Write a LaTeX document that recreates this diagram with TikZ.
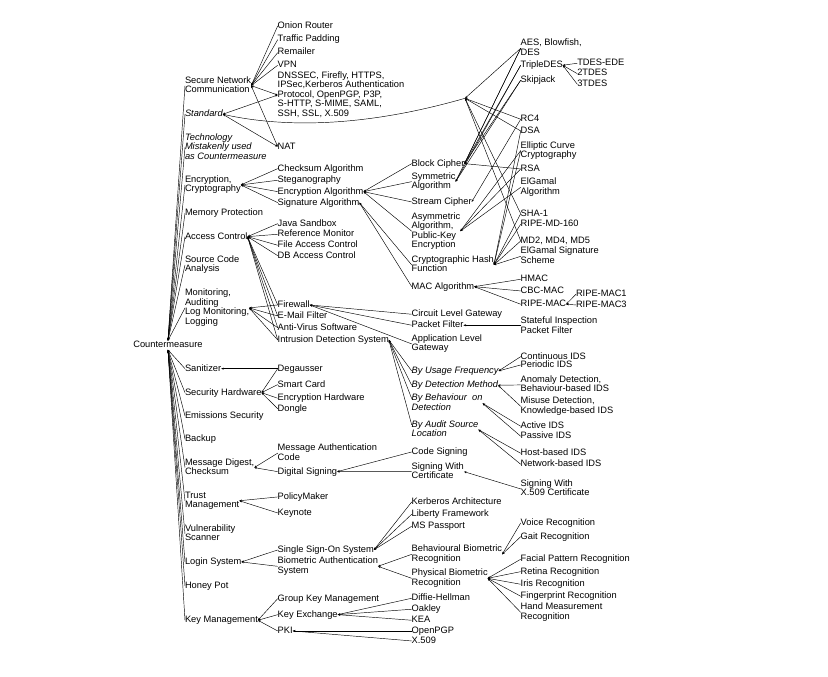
\documentclass[tikz,border=0pt]{standalone}
\usepackage{fontspec}
\setmainfont{Liberation Sans}
\usetikzlibrary{arrows.meta,calc}
\tikzset{
 lab/.style={anchor=north west, inner sep=0pt, outer sep=0pt, align=left,
   font=\fontsize{9.3}{9.6}\selectfont,
   execute at begin node={\rule{0pt}{7pt}},
   execute at end node={\rule[-2.3pt]{0pt}{2.3pt}}},
 itl/.style={lab, font=\fontsize{9.3}{9.6}\selectfont\itshape},
 ln/.style={draw=black, line width=0.45pt, {Stealth[length=2.6pt,width=2pt]}-},
 lnb/.style={draw=black, line width=0.45pt, {Stealth[length=2.6pt,width=2pt]}-{Stealth[length=2.6pt,width=2pt]}},
}
\begin{document}
\begin{tikzpicture}[x=1pt,y=-1pt]
\path[use as bounding box] (0,0) rectangle (828,677);
% root
\node[lab] (cm) at (133.3,340.6) {Countermeasure};
% first level
\node[lab] (snc) at (185,76.3) {Secure Network\\Communication};
\node[itl] (std) at (185,109.6) {Standard};
\node[itl] (tech) at (185,133.3) {Technology\\Mistakenly used\\as Countermeasure};
\node[lab] (enc) at (185,175.6) {Encryption,\\Cryptography};
\node[lab] (mem) at (185,208.6) {Memory Protection};
\node[lab] (acc) at (185,232) {Access Control};
\node[lab] (src) at (185,255.6) {Source Code\\Analysis};
\node[lab] (mon) at (185,289) {Monitoring,\\Auditing\\Log Monitoring,\\Logging};
\node[lab] (san) at (185,364) {Sanitizer};
\node[lab] (sech) at (185,388) {Security Hardware};
\node[lab] (ems) at (185,411.3) {Emissions Security};
\node[lab] (bak) at (185,434.6) {Backup};
\node[lab] (md) at (185,458.3) {Message Digest,\\Checksum};
\node[lab] (trust) at (185,491.6) {Trust\\Management};
\node[lab] (vuln) at (185,524.6) {Vulnerability\\Scanner};
\node[lab] (login) at (185,557.3) {Login System};
\node[lab] (honey) at (185,581.3) {Honey Pot};
\node[lab] (keym) at (185,615.6) {Key Management};
% second column
\node[lab] (onion) at (277.7,21.3) {Onion Router};
\node[lab] (traffic) at (277.7,35) {Traffic Padding};
\node[lab] (remailer) at (277.7,48) {Remailer};
\node[lab] (vpn) at (277.7,60.6) {VPN};
\node[lab] (proto) at (277.7,71.3) {DNSSEC, Firefly, HTTPS,\\IPSec,Kerberos Authentication\\Protocol, OpenPGP, P3P,\\S-HTTP, S-MIME, SAML,\\SSH, SSL, X.509};
\node[lab] (nat) at (277.7,142) {NAT};
\node[lab] (chk) at (277.7,164) {Checksum Algorithm};
\node[lab] (steg) at (277.7,175.6) {Steganography};
\node[lab] (encalg) at (277.7,187) {Encryption Algorithm};
\node[lab] (sigalg) at (277.7,198) {Signature Algorithm};
\node[lab] (java) at (277.7,219) {Java Sandbox};
\node[lab] (refmon) at (277.7,229.6) {Reference Monitor};
\node[lab] (fac) at (277.7,240.6) {File Access Control};
\node[lab] (dbac) at (277.7,251) {DB Access Control};
\node[lab] (fw) at (277.7,300.3) {Firewall};
\node[lab] (mail) at (277.7,311.3) {E-Mail Filter};
\node[lab] (av) at (277.7,323) {Anti-Virus Software};
\node[lab] (ids) at (277.7,335.3) {Intrusion Detection System};
\node[lab] (deg) at (277.7,364) {Degausser};
\node[lab] (smart) at (277.7,380) {Smart Card};
\node[lab] (enchw) at (277.7,393.6) {Encryption Hardware};
\node[lab] (dongle) at (277.7,404) {Dongle};
\node[lab] (mac) at (277.7,443.8) {Message Authentication\\Code};
\node[lab] (dsig) at (277.7,467) {Digital Signing};
\node[lab] (policy) at (277.7,492.3) {PolicyMaker};
\node[lab] (keynote) at (277.7,508.3) {Keynote};
\node[lab] (sso) at (277.7,545.3) {Single Sign-On System};
\node[lab] (bio) at (277.7,557) {Biometric Authentication\\System};
\node[lab] (gkm) at (277.7,594) {Group Key Management};
\node[lab] (kex) at (277.7,610) {Key Exchange};
\node[lab] (pki) at (277.7,626.3) {PKI};
% third column
\node[lab] (block) at (411.7,159) {Block Cipher};
\node[lab] (sym) at (411.7,172.3) {Symmetric\\Algorithm};
\node[lab] (stream) at (411.7,197.3) {Stream Cipher};
\node[lab] (asym) at (411.7,212.3) {Asymmetric\\Algorithm,\\Public-Key\\Encryption};
\node[lab] (hash) at (411.7,255.6) {Cryptographic Hash\\Function};
\node[lab] (macalg) at (411.7,282) {MAC Algorithm};
\node[lab] (circ) at (411.7,309.6) {Circuit Level Gateway};
\node[lab] (pf) at (411.7,320.6) {Packet Filter};
\node[lab] (alg) at (411.7,334.6) {Application Level\\Gateway};
\node[itl] (usage) at (411.7,366.3) {By Usage Frequency};
\node[itl] (detm) at (411.7,380.6) {By Detection Method};
\node[itl] (behav) at (411.7,394) {By Behaviour~~on\\Detection};
\node[itl] (audit) at (411.7,420.3) {By Audit Source\\Location};
\node[lab] (codesig) at (411.7,447.3) {Code Signing};
\node[lab] (sigcert) at (411.7,462.3) {Signing With\\Certificate};
\node[lab] (kerb) at (411.7,497.3) {Kerberos Architecture};
\node[lab] (lib) at (411.7,509.6) {Liberty Framework};
\node[lab] (msp) at (411.7,521.6) {MS Passport};
\node[lab] (behbio) at (411.7,545) {Behavioural Biometric\\Recognition};
\node[lab] (phybio) at (411.7,569) {Physical Biometric\\Recognition};
\node[lab] (dh) at (411.7,593.6) {Diffie-Hellman};
\node[lab] (oak) at (411.7,604.6) {Oakley};
\node[lab] (kea) at (411.7,615.6) {KEA};
\node[lab] (opgp) at (411.7,626.3) {OpenPGP};
\node[lab] (x509) at (411.7,636.3) {X.509};
% fourth column
\node[lab] (aes) at (520.7,39) {AES, Blowfish,\\DES};
\node[lab] (tdes) at (520.7,60.6) {TripleDES};
\node[lab] (skip) at (520.7,75.6) {Skipjack};
\node[lab] (rc4) at (520.7,114.6) {RC4};
\node[lab] (dsa) at (520.7,126.3) {DSA};
\node[lab] (ecc) at (520.7,141.3) {Elliptic Curve\\Cryptography};
\node[lab] (rsa) at (520.7,164.3) {RSA};
\node[lab] (elg) at (520.7,178) {ElGamal\\Algorithm};
\node[lab] (sha) at (520.7,209) {SHA-1};
\node[lab] (ripemd) at (520.7,219.6) {RIPE-MD-160};
\node[lab] (md2) at (520.7,236.3) {MD2, MD4, MD5};
\node[lab] (elgsig) at (520.7,247) {ElGamal Signature\\Scheme};
\node[lab] (hmac) at (520.7,274.6) {HMAC};
\node[lab] (cbc) at (520.7,286.3) {CBC-MAC};
\node[lab] (ripemac) at (520.7,299.6) {RIPE-MAC};
\node[lab] (stateful) at (520.7,317) {Stateful Inspection\\Packet Filter};
\node[lab] (cont) at (520.7,352) {Continuous IDS};
\node[lab] (periodic) at (520.7,360.3) {Periodic IDS};
\node[lab] (anom) at (520.7,375.6) {Anomaly Detection,\\Behaviour-based IDS};
\node[lab] (misuse) at (520.7,397) {Misuse Detection,\\Knowledge-based IDS};
\node[lab] (active) at (520.7,421.6) {Active IDS};
\node[lab] (passive) at (520.7,431.6) {Passive IDS};
\node[lab] (host) at (520.7,448.6) {Host-based IDS};
\node[lab] (net) at (520.7,459.6) {Network-based IDS};
\node[lab] (sigx) at (520.7,479.6) {Signing With\\X.509 Certificate};
\node[lab] (voice) at (520.7,518.3) {Voice Recognition};
\node[lab] (gait) at (520.7,532) {Gait Recognition};
\node[lab] (facial) at (520.7,554.6) {Facial Pattern Recognition};
\node[lab] (retina) at (520.7,567) {Retina Recognition};
\node[lab] (iris) at (520.7,579.6) {Iris Recognition};
\node[lab] (finger) at (520.7,591.6) {Fingerprint Recognition};
\node[lab] (hand) at (520.7,603) {Hand Measurement\\Recognition};
% fifth column
\node[lab] (tdesede) at (577.3,58.6) {TDES-EDE};
\node[lab] (tdes2) at (577.3,69) {2TDES};
\node[lab] (tdes3) at (577.3,79.6) {3TDES};
\node[lab] (ripemac1) at (576,289.6) {RIPE-MAC1};
\node[lab] (ripemac3) at (576,300.3) {RIPE-MAC3};
% hub of the standards
\coordinate (stdhub) at (465,98.3);

% ---- connectors ----
\foreach \c in {snc,std,tech,enc,mem,acc,src,mon}
  \draw[ln] (cm.north) -- (\c.west);
\foreach \c in {san,sech,ems,bak,md,trust,vuln,login,honey,keym}
  \draw[ln] (cm.south) -- (\c.west);
\foreach \c in {onion,traffic,remailer,vpn}
  \draw[ln] (snc.east) -- (\c.west);
\foreach \c in {proto,nat}
  \draw[lnb] (snc.east) -- (\c.west);
\foreach \c in {proto,nat}
  \draw[lnb] (std.east) -- (\c.west);
\draw[ln] (std.east) .. controls (285,128) and (365,127) .. (stdhub);
\foreach \c in {aes,rc4,dsa,sha,md2}
  \draw[ln] (stdhub) -- (\c.west);
\foreach \c in {chk,steg,encalg,sigalg}
  \draw[ln] (enc.east) -- (\c.west);
\foreach \c in {java,refmon,fac,dbac,fw,mail,av,ids}
  \draw[ln] (acc.east) -- (\c.west);
\foreach \c in {fw,mail,av,ids}
  \draw[ln] (mon.east) -- (\c.west);
\foreach \c in {block,sym,stream,asym}
  \draw[ln] (encalg.east) -- (\c.west);
\foreach \c in {hash,macalg}
  \draw[ln] (sigalg.east) -- (\c.west);
\foreach \c in {aes,tdes,skip,rsa}
  \draw[ln] (block.east) -- (\c.west);
\foreach \c in {aes,tdes,skip}
  \draw[ln] (sym.east) -- (\c.west);
\draw[ln] (stream.east) -- (rc4.west);
\foreach \c in {ecc,rsa,elg}
  \draw[ln] (asym.east) -- (\c.west);
\foreach \c in {sha,ripemd,md2,elgsig,dsa,ecc}
  \draw[ln] (hash.east) -- (\c.west);
\foreach \c in {hmac,cbc,ripemac}
  \draw[ln] (macalg.east) -- (\c.west);
\foreach \c in {ripemac1,ripemac3}
  \draw[ln] (ripemac.east) -- (\c.west);
\foreach \c in {tdesede,tdes2,tdes3}
  \draw[ln] (tdes.east) -- (\c.west);
\foreach \c in {circ,pf,alg}
  \draw[ln] (fw.east) -- (\c.west);
\draw[ln] (pf.east) -- (pf.east -| stateful.west);
\draw[ln] (ids.east) -- (usage.west);
\draw[ln] (ids.east) -- (detm.west);
\draw[ln] (ids.east) -- ($(behav.north west)+(0,4.6)$);
\draw[ln] (ids.east) -- ($(audit.north west)+(0,4.6)$);
\foreach \c in {cont,periodic}
  \draw[ln] (usage.east) -- (\c.west);
\foreach \c in {anom,misuse}
  \draw[ln] (detm.east) -- (\c.west);
\foreach \c in {active,passive}
  \draw[ln] (behav.east) -- (\c.west);
\foreach \c in {host,net}
  \draw[ln] (audit.east) -- (\c.west);
\draw[ln] (san.east) -- (deg.west);
\foreach \c in {deg,smart,enchw,dongle}
  \draw[ln] (sech.east) -- (\c.west);
\foreach \c in {mac,dsig}
  \draw[ln] (md.east) -- (\c.west);
\foreach \c in {codesig,sigcert}
  \draw[ln] (dsig.east) -- (\c.west);
\draw[ln] (sigcert.east) -- (sigx.west);
\foreach \c in {policy,keynote}
  \draw[ln] (trust.east) -- (\c.west);
\foreach \c in {sso,bio}
  \draw[ln] (login.east) -- (\c.west);
\foreach \c in {kerb,lib,msp}
  \draw[ln] (sso.east) -- (\c.west);
\foreach \c in {behbio,phybio}
  \draw[ln] (bio.east) -- (\c.west);
\foreach \c in {voice,gait}
  \draw[ln] (behbio.east) -- (\c.west);
\foreach \c in {facial,retina,iris,finger,hand}
  \draw[ln] (phybio.east) -- (\c.west);
\foreach \c in {gkm,kex,pki}
  \draw[ln] (keym.east) -- (\c.west);
\foreach \c in {dh,oak,kea}
  \draw[ln] (kex.east) -- (\c.west);
\foreach \c in {opgp,x509}
  \draw[ln] (pki.east) -- (\c.west);
\end{tikzpicture}
\end{document}
